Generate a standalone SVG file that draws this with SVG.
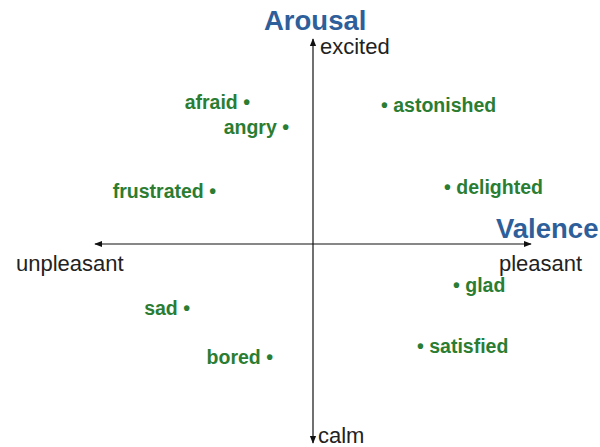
<svg xmlns="http://www.w3.org/2000/svg" width="600" height="447" viewBox="0 0 600 447">
<style>
.t{font-family:"Liberation Sans",Arial,sans-serif;font-weight:bold;fill:#2f5f9a;font-size:27.5px}
.p{font-family:"Liberation Sans",Arial,sans-serif;fill:#222;font-size:22px}
.e{font-family:"Liberation Sans",Arial,sans-serif;font-weight:bold;fill:#2a7d32;font-size:19.5px}
.ax{stroke:#111;stroke-width:1.2;fill:none}
</style>
<defs>
<marker id="ah" viewBox="0 0 10 10" refX="9" refY="5" markerWidth="8" markerHeight="8" markerUnits="userSpaceOnUse" orient="auto">
<path d="M0,1 L10,5 L0,9 Z" fill="#111"/>
</marker>
</defs>
<g id="connectors">
<line class="ax" x1="313" y1="244" x2="313" y2="39" marker-end="url(#ah)"/>
<line class="ax" x1="313" y1="244" x2="313" y2="443" marker-end="url(#ah)"/>
<line class="ax" x1="313" y1="244" x2="95" y2="244" marker-end="url(#ah)"/>
<line class="ax" x1="313" y1="244" x2="531" y2="244" marker-end="url(#ah)"/>
</g>
<g id="arousal"><text class="t" x="264" y="30">Arousal</text></g>
<g id="valence"><text class="t" x="496" y="238">Valence</text></g>
<g id="excited"><text class="p" x="320" y="54">excited</text></g>
<g id="calm"><text class="p" x="318" y="443">calm</text></g>
<g id="unpleasant"><text class="p" x="16" y="271">unpleasant</text></g>
<g id="pleasant"><text class="p" x="499" y="271">pleasant</text></g>
<g id="afraid"><text class="e" x="250" y="109" text-anchor="end">afraid •</text></g>
<g id="angry"><text class="e" x="289" y="134" text-anchor="end">angry •</text></g>
<g id="frustrated"><text class="e" x="216" y="198" text-anchor="end">frustrated •</text></g>
<g id="sad"><text class="e" x="190" y="315" text-anchor="end">sad •</text></g>
<g id="bored"><text class="e" x="273" y="364" text-anchor="end">bored •</text></g>
<g id="astonished"><text class="e" x="381" y="112">• astonished</text></g>
<g id="delighted"><text class="e" x="444" y="194">• delighted</text></g>
<g id="glad"><text class="e" x="453" y="292">• glad</text></g>
<g id="satisfied"><text class="e" x="417" y="353">• satisfied</text></g>
</svg>
